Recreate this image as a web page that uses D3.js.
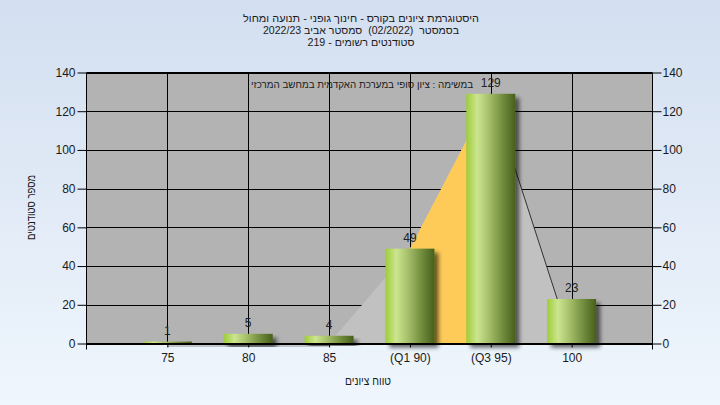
<!DOCTYPE html>
<html><head><meta charset="utf-8">
<script src="https://cdn.jsdelivr.net/npm/d3@7"></script>
<style>html,body{margin:0;padding:0;}svg{display:block;}</style>
</head><body><div id="chart"></div>
<script>
const categories = ["75", "80", "85", "(Q1 90)", "(Q3 95)", "100"];
const counts = [1, 5, 4, 49, 129, 23];
const curveCats = ["85", "(Q1 90)", "(Q3 95)", "100"];
const curveVals = [0, 49, 129, 0];
const iqrCats = ["(Q1 90)", "(Q3 95)"];
const iqrVals = [49, 129];
const tailCats = ["(Q3 95)", "100"];
const tailVals = [129, 0];
const yTicks = [0, 20, 40, 60, 80, 100, 120, 140];
const titleLines = ["היסטוגרמת ציונים בקורס - חינוך גופני - תנועה ומחול", "בסמסטר  (02/2022)  סמסטר אביב 2022/23", "סטודנטים רשומים - 219"];
const subtitle = "במשימה : ציון סופי במערכת האקדמית במחשב המרכזי";
const xTitle = "טווח ציונים";
const yTitle = "מספר סטודנטים";

const W = 720, H = 405;
const L = 86.5, R = 652.5, T = 72.5, B = 343.5;
const FONT = "'Liberation Sans', Arial, sans-serif";

const svg = d3.select("#chart").append("svg").attr("width", W).attr("height", H);
const defs = svg.append("defs");
const bg = defs.append("linearGradient").attr("id", "bg").attr("x1", 0).attr("y1", 0).attr("x2", 0).attr("y2", 1);
bg.append("stop").attr("offset", "0%").attr("stop-color", "#d3dff0");
bg.append("stop").attr("offset", "100%").attr("stop-color", "#eff6fd");
const bar = defs.append("linearGradient").attr("id", "bar").attr("x1", 0).attr("y1", 0).attr("x2", 1).attr("y2", 0);
[["0%", "#9dcd38"], ["22%", "#cce58f"], ["45%", "#a7c16c"], ["75%", "#6f8b3b"], ["100%", "#485f1d"]]
  .forEach(([o, c]) => bar.append("stop").attr("offset", o).attr("stop-color", c));
const f = defs.append("filter").attr("id", "shadow").attr("x", "-20%").attr("y", "-20%").attr("width", "150%").attr("height", "150%");
f.append("feGaussianBlur").attr("in", "SourceAlpha").attr("stdDeviation", 2).attr("result", "b");
f.append("feOffset").attr("in", "b").attr("dx", 4).attr("dy", 4).attr("result", "o");
f.append("feComponentTransfer").attr("in", "o").attr("result", "s").append("feFuncA").attr("type", "linear").attr("slope", 0.6);
const m = f.append("feMerge");
m.append("feMergeNode").attr("in", "s");
m.append("feMergeNode").attr("in", "SourceGraphic");

svg.append("rect").attr("width", W).attr("height", H).attr("fill", "url(#bg)");

const x = d3.scalePoint().domain(categories).range([L, R]).padding(1);
const y = d3.scaleLinear().domain([0, 140]).range([B, T]);

// plot background
svg.append("rect").attr("x", L).attr("y", T).attr("width", R - L).attr("height", B - T).attr("fill", "#b3b3b3");

// grid
const g = svg.append("g").attr("stroke", "#000").attr("stroke-width", 1);
g.selectAll(".hg").data(yTicks).enter().append("line")
  .attr("x1", L).attr("x2", R).attr("y1", d => Math.round(y(d)) + 0.5).attr("y2", d => Math.round(y(d)) + 0.5);
g.selectAll(".vg").data(categories).enter().append("line")
  .attr("x1", d => Math.round(x(d)) + 0.5).attr("x2", d => Math.round(x(d)) + 0.5).attr("y1", T).attr("y2", B);

// areas
const area = d3.area().x(d => x(d[0])).y0(y(0)).y1(d => y(d[1]));
svg.append("path").datum(curveCats.map((c, i) => [c, curveVals[i]])).attr("d", area).attr("fill", "#c1c1c1");
svg.append("path").datum(iqrCats.map((c, i) => [c, iqrVals[i]])).attr("d", area).attr("fill", "#fecb58");
svg.append("path").datum(tailCats.map((c, i) => [c, tailVals[i]]))
  .attr("d", d3.line().x(d => x(d[0])).y(d => y(d[1]))).attr("fill", "none").attr("stroke", "#333").attr("stroke-width", 1);
// baseline shadow
svg.append("line").attr("x1", x("75")).attr("x2", x("85")).attr("y1", B + 2.5).attr("y2", B + 2.5)
  .attr("stroke", "#8f959c").attr("stroke-width", 1.2);

// bars
const bw = 49;
svg.append("g").selectAll("rect").data(categories).enter().append("rect")
  .attr("x", d => x(d) - bw / 2).attr("width", bw)
  .attr("y", (d, i) => y(counts[i])).attr("height", (d, i) => y(0) - y(counts[i]))
  .attr("fill", "url(#bar)").attr("filter", "url(#shadow)");

// axes lines
const ax = svg.append("g").attr("stroke", "#000").attr("stroke-width", 1);
ax.append("line").attr("x1", L).attr("x2", R).attr("y1", B).attr("y2", B);
ax.append("line").attr("x1", L).attr("x2", R).attr("y1", T).attr("y2", T);
ax.append("line").attr("x1", L).attr("x2", L).attr("y1", T).attr("y2", B + 6);
ax.append("line").attr("x1", R).attr("x2", R).attr("y1", T).attr("y2", B + 6);

const yl = svg.append("g").attr("transform", `translate(${L},0)`)
  .call(d3.axisLeft(y).tickValues(yTicks).tickSize(9).tickPadding(2).tickFormat(d3.format("d")));
const yr = svg.append("g").attr("transform", `translate(${R},0)`)
  .call(d3.axisRight(y).tickValues(yTicks).tickSize(9).tickPadding(1).tickFormat(d3.format("d")));
const xa = svg.append("g").attr("transform", `translate(0,${B})`)
  .call(d3.axisBottom(x).tickSize(4).tickPadding(6));
[yl, yr, xa].forEach(a => {
  a.select(".domain").remove();
  a.selectAll("line").attr("stroke", "#000");
  a.selectAll("text").attr("fill", "#1a1a1a").style("font-family", FONT).style("font-size", "12px");
});

// value labels
svg.append("g").selectAll("text").data(categories).enter().append("text")
  .attr("x", d => x(d)).attr("y", (d, i) => y(counts[i]) - 7)
  .attr("text-anchor", "middle").attr("fill", "#222").style("font-family", FONT).style("font-size", "12px")
  .text((d, i) => counts[i]);

function heb(sel, len, fs) {
  return sel.attr("text-anchor", "middle").attr("direction", "rtl").attr("xml:space", "preserve")
    .style("white-space", "pre").attr("textLength", len).attr("lengthAdjust", "spacingAndGlyphs")
    .attr("fill", "#1a1a1a").style("font-family", FONT).style("font-size", (fs || 12) + "px");
}
// titles
const titleLens = [236, 196, 107];
titleLines.forEach((t, i) => heb(svg.append("text").attr("x", 361).attr("y", 21.5 + i * 12.4), titleLens[i], 10.5).text(t));
heb(svg.append("text").attr("x", 362).attr("y", 88), 222, 9.8).text(subtitle);
heb(svg.append("text").attr("x", 368).attr("y", 385), 46).text(xTitle);
heb(svg.append("text").attr("transform", "translate(35,207.5) rotate(-90)"), 65).text(yTitle);
</script></body></html>
